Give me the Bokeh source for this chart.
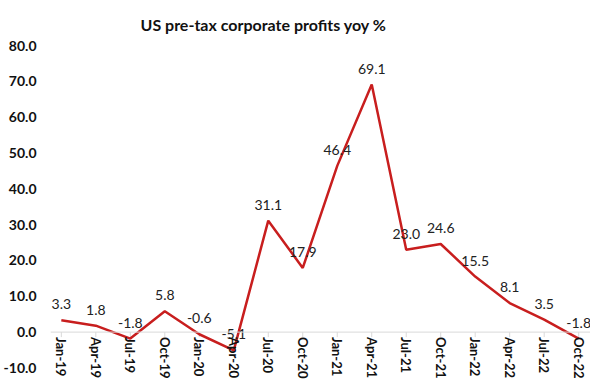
import math
from bokeh.plotting import figure
from bokeh.models import (FixedTicker, NumeralTickFormatter, Range1d, Title, ColumnDataSource,
                          Span, LabelSet)
from bokeh.core.properties import value
from bokeh.embed import file_html
from bokeh.resources import INLINE

categories = ["Jan-19", "Apr-19", "Jul-19", "Oct-19", "Jan-20", "Apr-20", "Jul-20", "Oct-20",
              "Jan-21", "Apr-21", "Jul-21", "Oct-21", "Jan-22", "Apr-22", "Jul-22", "Oct-22"]
values = [3.3, 1.8, -1.8, 5.8, -0.6, -5.1, 31.1, 17.9, 46.4, 69.1, 23.0, 24.6, 15.5, 8.1, 3.5, -1.8]
y_ticks = [-10, 0, 10, 20, 30, 40, 50, 60, 70, 80]
title_text = "US pre-tax corporate profits yoy %"

FONT = "Lato"
idx = list(range(len(categories)))
src = ColumnDataSource(dict(x=idx, y=values, lbl=[f"{v:.1f}" for v in values]))
cat_src = ColumnDataSource(dict(x=idx, y=[0] * len(idx), lbl=categories))

p = figure(width=590, height=381, output_backend="svg", toolbar_location=None,
           x_axis_location=None,
           x_range=Range1d(-0.314, 15.343), y_range=Range1d(-13.79, 80),
           min_border=0, min_border_left=42, min_border_right=0, min_border_bottom=0,
           min_border_top=0)
p.outline_line_color = None
p.grid.visible = False
p.background_fill_color = "white"
p.border_fill_color = "white"

t = Title(text=title_text, align="left", offset=90, text_font=FONT, text_font_size="16px",
          text_font_style="bold", text_color="#111111", standoff=24)
p.add_layout(t, "above")

# y axis
ya = p.yaxis[0]
ya.ticker = FixedTicker(ticks=y_ticks)
ya.formatter = NumeralTickFormatter(format="0.0")
ya.axis_line_color = None
ya.major_tick_line_color = None
ya.minor_tick_line_color = None
ya.major_label_text_font = FONT
ya.major_label_text_font_size = "14px"
ya.major_label_text_font_style = "bold"
ya.major_label_text_color = "#111111"
ya.major_label_standoff = 8

# category axis drawn at y = 0
p.add_layout(Span(location=0, dimension="width", line_color="#d9d9d9", line_width=1))
p.segment(x0="x", y0="y", x1="x", y1=-1.4, source=cat_src, line_color="#d9d9d9", line_width=1)
cat_labels = LabelSet(x="x", y="y", text="lbl", source=cat_src, text_font=value(FONT),
                      text_font_size="13px", text_font_style="bold", text_color="#111111",
                      text_align="left", text_baseline="middle", angle=-math.pi / 2,
                      y_offset=-5, x_offset=0)
p.add_layout(cat_labels)

p.line("x", "y", source=src, line_color="#C81E1E", line_width=2.5)
p.text("x", "y", text="lbl", source=src, text_font=value(FONT), text_font_size="14px",
       text_color="#222222", text_align="center", text_baseline="middle", y_offset=-16)

open("out.html", "w").write(file_html(p, INLINE))
